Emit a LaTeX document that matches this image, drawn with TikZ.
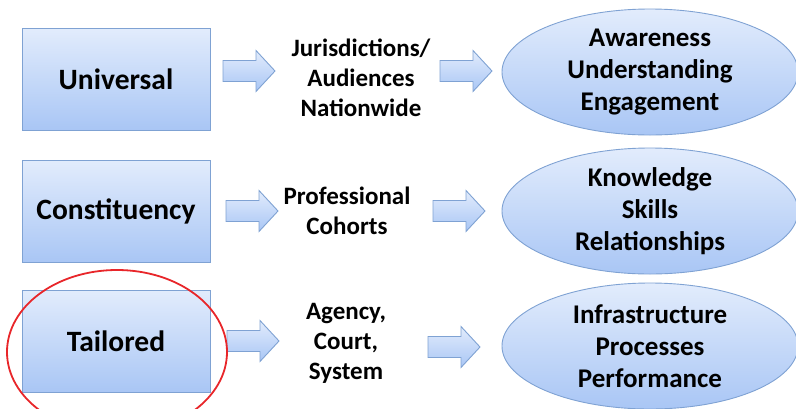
\documentclass[tikz,border=0pt]{standalone}
\usepackage{fontspec}
\setmainfont{Carlito}
\usetikzlibrary{shapes.geometric}
\definecolor{boxtop}{HTML}{E2ECFC}
\definecolor{boxbot}{HTML}{A9C6F5}
\definecolor{boxline}{HTML}{7FA2D3}
\definecolor{ringred}{HTML}{E8262A}
\tikzset{
  levelbox/.style={draw=boxline, line width=0.9pt, top color=boxtop, bottom color=boxbot,
    minimum width=188pt, minimum height=102pt, inner sep=0pt,
    font=\bfseries\fontsize{29.5}{30}\selectfont},
  outcome/.style={ellipse, draw=boxline, line width=0.9pt, top color=boxtop, bottom color=boxbot,
    minimum width=296pt, minimum height=126pt, inner sep=0pt, align=center,
    font=\bfseries\fontsize{27}{32}\selectfont},
  midtext/.style={align=center, inner sep=0pt, font=\bfseries\fontsize{25}{30}\selectfont},
  barrow/.style={draw=boxline, line width=0.9pt, top color=boxtop, bottom color=boxbot},
  blockarrow/.pic={\draw[barrow] (0,-10.5) -- (33,-10.5) -- (33,-20.5) -- (52,0) -- (33,20.5) -- (33,10.5) -- (0,10.5) -- cycle;},
}
\begin{document}
\begin{tikzpicture}[x=1pt,y=-1pt]
\useasboundingbox (0,0) rectangle (796,408);
% left boxes
\node[levelbox] (uni) at (116,79) {Universal};
\node[levelbox] (con) at (116,211) {Constituency};
\node[levelbox] (tai) at (116,341) {Tailored};
% middle texts
\node[midtext] (jur) at (361,78) {Jurisdictions/\\Audiences\\Nationwide};
\node[midtext] (pro) at (347,211) {Professional\\Cohorts};
\node[midtext] (age) at (346,343) {Agency,\\Court,\\System};
% outcome ellipses
\node[outcome] (aw) at (650,72) {Awareness\\Understanding\\Engagement};
\node[outcome] (kn) at (650,211) {Knowledge\\Skills\\Relationships};
\node[outcome] (inf) at (650,346) {Infrastructure\\Processes\\Performance};
% block arrows
\pic at (223,71) {blockarrow};
\pic at (440,71) {blockarrow};
\pic at (226,211) {blockarrow};
\pic at (433,211) {blockarrow};
\pic at (227,341) {blockarrow};
\pic at (428,347) {blockarrow};
% red highlight ring
\node[ellipse, draw=ringred, line width=1.8pt, minimum width=220pt, minimum height=164pt] (ring) at (117,352) {};
\end{tikzpicture}
\end{document}
